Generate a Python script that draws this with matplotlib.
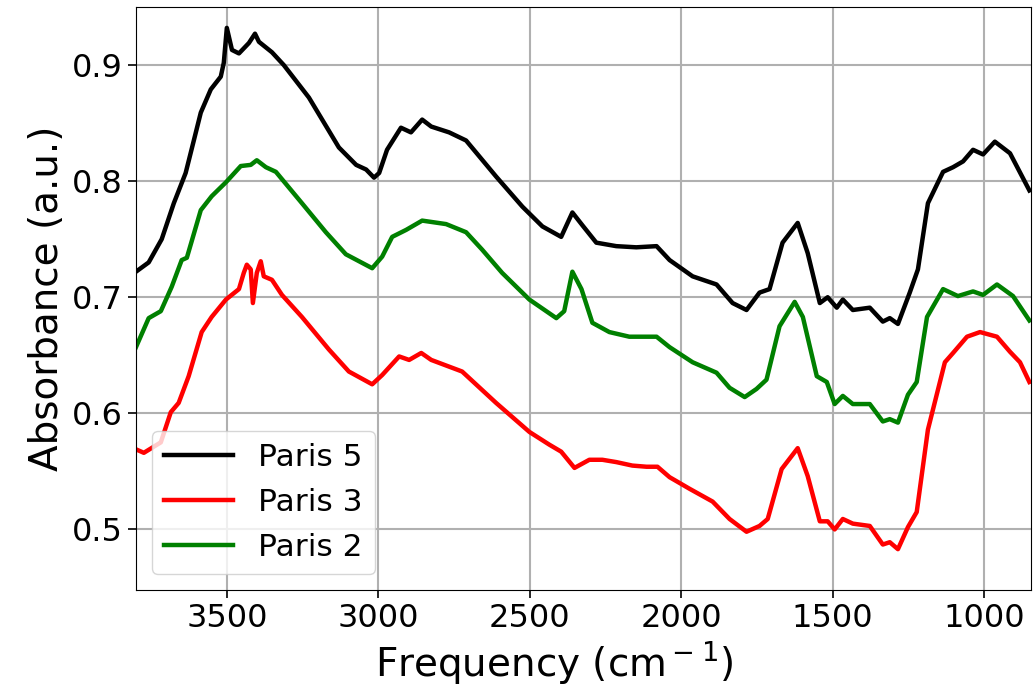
import numpy as np
import matplotlib.pyplot as plt

# Paris 5 (black)
f5 = [3800, 3758, 3715, 3675, 3636, 3609, 3586, 3553, 3520, 3510, 3500, 3483, 3460, 3427,
      3407, 3394, 3351, 3312, 3229, 3130, 3073, 3040, 3014, 2997, 2971, 2925, 2892, 2855,
      2825, 2766, 2710, 2611, 2524, 2458, 2396, 2359, 2326, 2280, 2214, 2148, 2081, 2038,
      1962, 1883, 1830, 1784, 1741, 1708, 1665, 1615, 1582, 1542, 1516, 1486, 1466, 1433,
      1377, 1334, 1311, 1284, 1245, 1218, 1185, 1135, 1102, 1069, 1036, 1003, 964, 914, 850]
a5 = [0.722, 0.730, 0.750, 0.781, 0.807, 0.835, 0.859, 0.879, 0.890, 0.902, 0.932, 0.913,
      0.910, 0.919, 0.927, 0.920, 0.911, 0.900, 0.872, 0.829, 0.814, 0.810, 0.803, 0.807,
      0.827, 0.846, 0.842, 0.853, 0.847, 0.842, 0.835, 0.804, 0.778, 0.761, 0.752, 0.773,
      0.762, 0.747, 0.744, 0.743, 0.744, 0.732, 0.718, 0.711, 0.695, 0.689, 0.704, 0.707,
      0.747, 0.764, 0.738, 0.695, 0.700, 0.691, 0.698, 0.689, 0.691, 0.679, 0.682, 0.677,
      0.704, 0.724, 0.781, 0.808, 0.812, 0.817, 0.827, 0.823, 0.834, 0.824, 0.792]

# Paris 3 (red)
f3 = [3800, 3774, 3718, 3685, 3659, 3626, 3583, 3550, 3503, 3460, 3444, 3434, 3421, 3414,
      3401, 3388, 3378, 3351, 3318, 3252, 3163, 3097, 3020, 2987, 2931, 2898, 2858, 2825,
      2723, 2611, 2501, 2435, 2396, 2352, 2303, 2260, 2214, 2161, 2114, 2078, 2038, 1972,
      1896, 1840, 1784, 1741, 1714, 1668, 1615, 1582, 1542, 1516, 1493, 1466, 1433, 1377,
      1334, 1311, 1284, 1251, 1222, 1185, 1129, 1102, 1056, 1013, 957, 914, 881, 850]
a3 = [0.569, 0.566, 0.575, 0.601, 0.609, 0.632, 0.670, 0.683, 0.698, 0.707, 0.721, 0.728,
      0.724, 0.695, 0.721, 0.731, 0.718, 0.715, 0.702, 0.683, 0.655, 0.636, 0.625, 0.633,
      0.649, 0.646, 0.652, 0.646, 0.636, 0.609, 0.584, 0.573, 0.567, 0.553, 0.560, 0.560,
      0.558, 0.555, 0.554, 0.554, 0.545, 0.535, 0.524, 0.509, 0.498, 0.503, 0.509, 0.552,
      0.570, 0.546, 0.507, 0.507, 0.500, 0.509, 0.505, 0.503, 0.487, 0.489, 0.483, 0.502,
      0.515, 0.586, 0.644, 0.652, 0.666, 0.670, 0.666, 0.653, 0.644, 0.627]

# Paris 2 (green)
f2 = [3800, 3758, 3718, 3682, 3649, 3632, 3586, 3550, 3503, 3454, 3421, 3401, 3371, 3338,
      3252, 3173, 3107, 3020, 2987, 2954, 2908, 2855, 2776, 2710, 2657, 2591, 2501, 2412,
      2386, 2359, 2329, 2293, 2237, 2171, 2081, 2038, 1962, 1883, 1840, 1790, 1751, 1718,
      1675, 1625, 1598, 1552, 1519, 1493, 1466, 1433, 1377, 1334, 1311, 1284, 1251, 1222,
      1188, 1135, 1086, 1036, 1003, 957, 904, 850]
a2 = [0.657, 0.682, 0.688, 0.709, 0.732, 0.734, 0.775, 0.787, 0.799, 0.813, 0.814, 0.818,
      0.812, 0.808, 0.781, 0.756, 0.737, 0.725, 0.735, 0.752, 0.758, 0.766, 0.763, 0.756,
      0.741, 0.721, 0.698, 0.682, 0.688, 0.722, 0.707, 0.678, 0.670, 0.666, 0.666, 0.657,
      0.644, 0.635, 0.622, 0.614, 0.621, 0.629, 0.675, 0.696, 0.683, 0.632, 0.627, 0.608,
      0.615, 0.608, 0.608, 0.593, 0.595, 0.592, 0.616, 0.627, 0.683, 0.707, 0.701, 0.705,
      0.702, 0.711, 0.701, 0.680]

fig = plt.figure(figsize=(10.34, 6.98), dpi=100)
ax = fig.add_axes([0.1315, 0.155, 0.8655, 0.835])

ax.plot(f5, a5, color='black', lw=3.2, label='Paris 5')
ax.plot(f3, a3, color='red', lw=3.2, label='Paris 3')
ax.plot(f2, a2, color='green', lw=3.2, label='Paris 2')

ax.set_xlim(3800, 845)
ax.set_ylim(0.448, 0.95)
ax.set_xticks([3500, 3000, 2500, 2000, 1500, 1000])
ax.set_yticks([0.5, 0.6, 0.7, 0.8, 0.9])
ax.grid(True, color='#b0b0b0', lw=1.5)
ax.tick_params(labelsize=23, length=6, width=1.2)
ax.set_xlabel('Frequency (cm$^-$$^1$)', fontsize=28)
ax.xaxis.set_label_coords(0.468, -0.085)
ax.set_ylabel('Absorbance (a.u.)', fontsize=28)
ax.legend(loc='lower left', fontsize=22.5, handlelength=2.2)

fig.savefig('out.png', dpi=100)
